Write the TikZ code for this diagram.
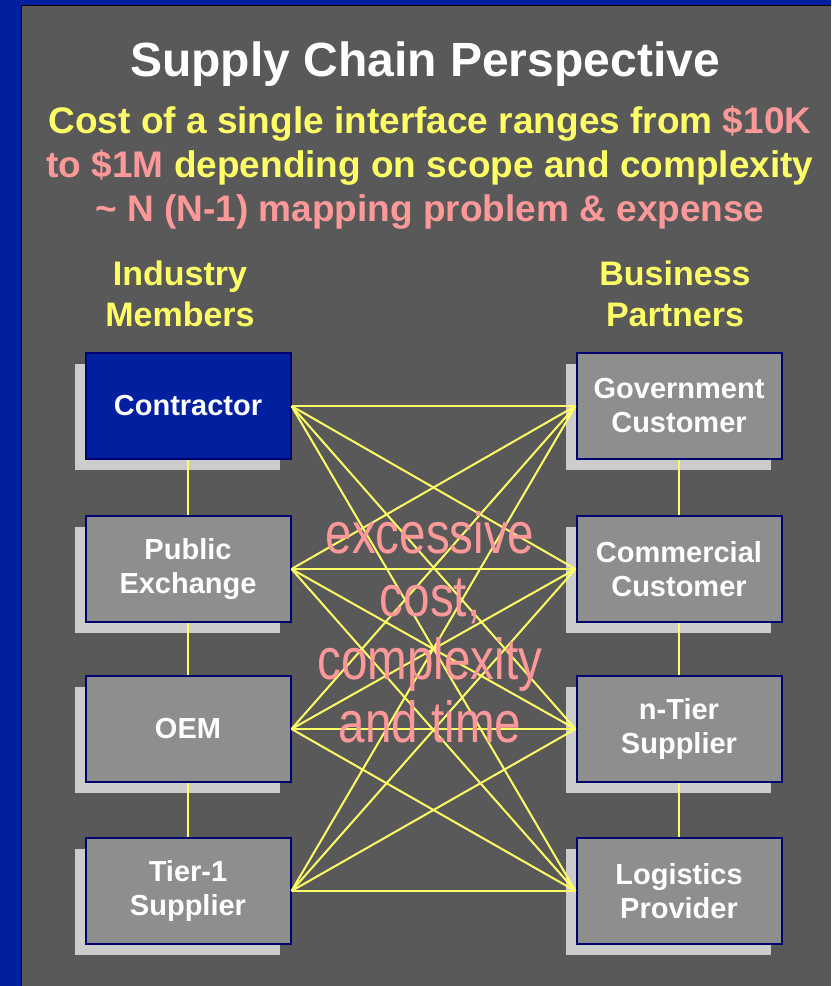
\documentclass[tikz,border=0pt]{standalone}
\usepackage{fontspec}
\setmainfont{Liberation Sans}
\newfontfamily\narrowfont{Liberation Sans}[FakeStretch=0.82]
\usetikzlibrary{shadows}

\definecolor{slideblue}{RGB}{0,32,160}
\definecolor{panelgray}{RGB}{89,89,89}
\definecolor{boxgray}{RGB}{142,142,142}
\definecolor{shadowgray}{RGB}{204,204,204}
\definecolor{boxline}{RGB}{0,0,110}
\definecolor{hiyellow}{RGB}{255,255,102}
\definecolor{hipink}{RGB}{255,153,153}

\begin{document}
\begin{tikzpicture}[x=1pt,y=-1pt,
    chain_box/.style={rectangle,draw=boxline,line width=2pt,fill=boxgray,
        minimum width=205pt,minimum height=106pt,inner sep=0pt,align=center,
        text=white,font=\fontsize{29}{34}\selectfont\bfseries,
        drop shadow={shadow xshift=-11pt,shadow yshift=-11pt,fill=shadowgray,opacity=1}},
    main_box/.style={chain_box,fill=slideblue},
    link_line/.style={hiyellow,line width=2pt},
    head_text/.style={hiyellow,align=center,anchor=base,font=\fontsize{34}{41}\selectfont\bfseries}]

    \useasboundingbox (0,0) rectangle (831,986);
    \fill[slideblue] (0,0) rectangle (831,986);
    \fill[panelgray] (21,5) rectangle (831,986);
    \draw[black,line width=1pt] (21,986) -- (21,5) -- (831,5);

    % base anchor of a multi-line node sits on its last line
    \node[white,anchor=base,font=\fontsize{48}{50}\selectfont\bfseries] (title) at (425,76) {Supply Chain Perspective};
    \node[hiyellow,align=center,anchor=base,font=\fontsize{37}{44}\selectfont\bfseries] (cost) at (430,221)
        {Cost of a single interface ranges from \textcolor{hipink}{\$10K}\\
         \textcolor{hipink}{to \$1M} depending on scope and complexity\\
         \textcolor{hipink}{\textasciitilde{} N (N-1) mapping problem \& expense}};

    \node[head_text] (members) at (180,326) {Industry\\Members};
    \node[head_text] (partners) at (675,326) {Business\\Partners};

    \node[main_box] (contractor) at (188,406) {Contractor};
    \node[chain_box] (exchange) at (188,569) {Public\\Exchange};
    \node[chain_box] (oem) at (188,729) {OEM};
    \node[chain_box] (tier1) at (188,891) {Tier-1\\Supplier};

    \node[chain_box] (government) at (679,406) {Government\\Customer};
    \node[chain_box] (commercial) at (679,569) {Commercial\\Customer};
    \node[chain_box] (ntier) at (679,729) {n-Tier\\Supplier};
    \node[chain_box] (logistics) at (679,891) {Logistics\\Provider};

    \path[draw,link_line]
    (contractor) edge (exchange)
    (exchange) edge (oem)
    (oem) edge (tier1)
    (government) edge (commercial)
    (commercial) edge (ntier)
    (ntier) edge (logistics);

    % every member talks to every partner
    \foreach \a in {contractor,exchange,oem,tier1}
        \foreach \b in {government,commercial,ntier,logistics}
            \draw[link_line] (\a.east) -- (\b.west);

    \node[hipink,align=center,anchor=base,font=\narrowfont\fontsize{58}{63}\selectfont] (excess) at (430,742)
        {excessive\\cost,\\complexity\\and time};
\end{tikzpicture}
\end{document}
